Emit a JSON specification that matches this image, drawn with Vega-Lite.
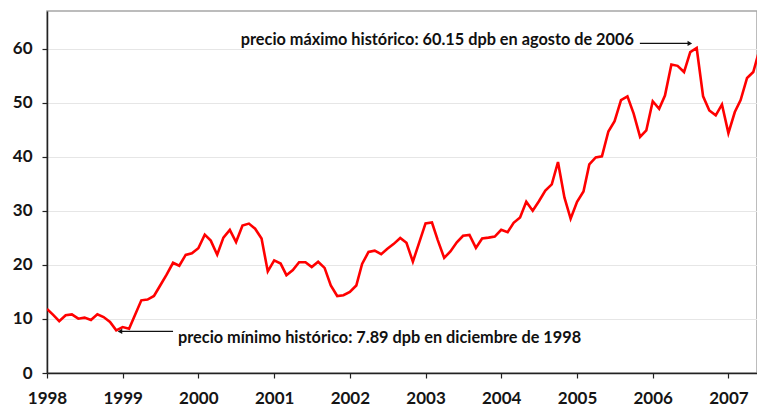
{
  "$schema": "https://vega.github.io/schema/vega-lite/v6.json",
  "width": 710,
  "height": 362,
  "autosize": {"type": "none"},
  "padding": {"left": 47, "top": 11, "right": 0, "bottom": 36},
  "background": "white",
  "view": {"stroke": "#a6a6a6", "strokeWidth": 1.5},
  "config": {
    "font": "Lato",
    "axis": {
      "labelFont": "Lato",
      "labelFontWeight": "bold",
      "labelFontSize": 17,
      "labelColor": "#151515",
      "domainColor": "#222222",
      "domainWidth": 1.5,
      "tickColor": "#222222",
      "tickWidth": 1.2,
      "tickSize": 5,
      "title": null
    }
  },
  "datasets": {
    "precio": [
      {"date": "1998-01-01", "v": 11.85}, {"date": "1998-02-01", "v": 10.7}, {"date": "1998-03-01", "v": 9.6}, {"date": "1998-04-01", "v": 10.7},
      {"date": "1998-05-01", "v": 10.85}, {"date": "1998-06-01", "v": 10.05}, {"date": "1998-07-01", "v": 10.25}, {"date": "1998-08-01", "v": 9.8},
      {"date": "1998-09-01", "v": 10.85}, {"date": "1998-10-01", "v": 10.35}, {"date": "1998-11-01", "v": 9.45}, {"date": "1998-12-01", "v": 7.89},
      {"date": "1999-01-01", "v": 8.5}, {"date": "1999-02-01", "v": 8.2}, {"date": "1999-03-01", "v": 10.7}, {"date": "1999-04-01", "v": 13.45},
      {"date": "1999-05-01", "v": 13.6}, {"date": "1999-06-01", "v": 14.25}, {"date": "1999-07-01", "v": 16.2}, {"date": "1999-08-01", "v": 18.2},
      {"date": "1999-09-01", "v": 20.4}, {"date": "1999-10-01", "v": 19.85}, {"date": "1999-11-01", "v": 21.85}, {"date": "1999-12-01", "v": 22.15},
      {"date": "2000-01-01", "v": 23.1}, {"date": "2000-02-01", "v": 25.6}, {"date": "2000-03-01", "v": 24.5}, {"date": "2000-04-01", "v": 21.9},
      {"date": "2000-05-01", "v": 25.05}, {"date": "2000-06-01", "v": 26.5}, {"date": "2000-07-01", "v": 24.25}, {"date": "2000-08-01", "v": 27.3},
      {"date": "2000-09-01", "v": 27.65}, {"date": "2000-10-01", "v": 26.7}, {"date": "2000-11-01", "v": 24.9}, {"date": "2000-12-01", "v": 18.8},
      {"date": "2001-01-01", "v": 20.85}, {"date": "2001-02-01", "v": 20.25}, {"date": "2001-03-01", "v": 18.1}, {"date": "2001-04-01", "v": 19.05},
      {"date": "2001-05-01", "v": 20.5}, {"date": "2001-06-01", "v": 20.5}, {"date": "2001-07-01", "v": 19.6}, {"date": "2001-08-01", "v": 20.6},
      {"date": "2001-09-01", "v": 19.45}, {"date": "2001-10-01", "v": 16.2}, {"date": "2001-11-01", "v": 14.25}, {"date": "2001-12-01", "v": 14.4},
      {"date": "2002-01-01", "v": 15.0}, {"date": "2002-02-01", "v": 16.2}, {"date": "2002-03-01", "v": 20.2}, {"date": "2002-04-01", "v": 22.4},
      {"date": "2002-05-01", "v": 22.65}, {"date": "2002-06-01", "v": 22.0}, {"date": "2002-07-01", "v": 23.0}, {"date": "2002-08-01", "v": 23.9},
      {"date": "2002-09-01", "v": 25.0}, {"date": "2002-10-01", "v": 24.1}, {"date": "2002-11-01", "v": 20.6}, {"date": "2002-12-01", "v": 24.1},
      {"date": "2003-01-01", "v": 27.7}, {"date": "2003-02-01", "v": 27.85}, {"date": "2003-03-01", "v": 24.6}, {"date": "2003-04-01", "v": 21.3},
      {"date": "2003-05-01", "v": 22.5}, {"date": "2003-06-01", "v": 24.2}, {"date": "2003-07-01", "v": 25.4}, {"date": "2003-08-01", "v": 25.55},
      {"date": "2003-09-01", "v": 23.15}, {"date": "2003-10-01", "v": 24.9}, {"date": "2003-11-01", "v": 25.05}, {"date": "2003-12-01", "v": 25.25},
      {"date": "2004-01-01", "v": 26.5}, {"date": "2004-02-01", "v": 26.05}, {"date": "2004-03-01", "v": 27.8}, {"date": "2004-04-01", "v": 28.8},
      {"date": "2004-05-01", "v": 31.7}, {"date": "2004-06-01", "v": 30.05}, {"date": "2004-07-01", "v": 31.8}, {"date": "2004-08-01", "v": 33.75},
      {"date": "2004-09-01", "v": 34.9}, {"date": "2004-10-01", "v": 39.05}, {"date": "2004-11-01", "v": 32.5}, {"date": "2004-12-01", "v": 28.55},
      {"date": "2005-01-01", "v": 31.7}, {"date": "2005-02-01", "v": 33.6}, {"date": "2005-03-01", "v": 38.6}, {"date": "2005-04-01", "v": 39.9},
      {"date": "2005-05-01", "v": 40.1}, {"date": "2005-06-01", "v": 44.7}, {"date": "2005-07-01", "v": 46.6}, {"date": "2005-08-01", "v": 50.5},
      {"date": "2005-09-01", "v": 51.2}, {"date": "2005-10-01", "v": 48.0}, {"date": "2005-11-01", "v": 43.7}, {"date": "2005-12-01", "v": 44.9},
      {"date": "2006-01-01", "v": 50.3}, {"date": "2006-02-01", "v": 48.9}, {"date": "2006-03-01", "v": 51.35}, {"date": "2006-04-01", "v": 57.1},
      {"date": "2006-05-01", "v": 56.85}, {"date": "2006-06-01", "v": 55.7}, {"date": "2006-07-01", "v": 59.4}, {"date": "2006-08-01", "v": 60.15},
      {"date": "2006-09-01", "v": 51.2}, {"date": "2006-10-01", "v": 48.6}, {"date": "2006-11-01", "v": 47.7}, {"date": "2006-12-01", "v": 49.7},
      {"date": "2007-01-01", "v": 44.4}, {"date": "2007-02-01", "v": 48.3}, {"date": "2007-03-01", "v": 50.5}, {"date": "2007-04-01", "v": 54.6},
      {"date": "2007-05-01", "v": 55.7}, {"date": "2007-06-01", "v": 60.0}
    ],
    "flechas": [
      {"desde": "2005-10-31", "hasta": "2006-06-29", "nivel": 61.0, "forma": "triangle-right"},
      {"desde": "1999-09-01", "hasta": "1998-12-19", "nivel": 7.7, "forma": "triangle-left"}
    ],
    "notas": [
      {"fecha": "2005-10-02", "nivel": 61.6, "texto": "precio máximo histórico: 60.15 dpb en agosto de 2006", "lado": "derecha"},
      {"fecha": "1999-09-25", "nivel": 6.5, "texto": "precio mínimo histórico: 7.89 dpb en diciembre de 1998", "lado": "izquierda"}
    ]
  },
  "layer": [
    {
      "data": {"name": "precio"},
      "mark": {"type": "line", "color": "#ff0000", "strokeWidth": 2.6, "clip": true, "strokeJoin": "miter"},
      "encoding": {
        "x": {
          "field": "date", "type": "temporal",
          "scale": {"type": "utc", "domain": [{"year": 1998, "month": 1, "date": 1, "utc": true}, {"year": 2007, "month": 5, "date": 19, "utc": true}]},
          "axis": {"format": "%Y", "tickCount": {"interval": "year", "step": 1}, "grid": false, "labelPadding": 12, "labelFlush": false, "labelOverlap": false}
        },
        "y": {
          "field": "v", "type": "quantitative",
          "scale": {"domain": [0, 67], "nice": false},
          "axis": {"values": [0, 10, 20, 30, 40, 50, 60], "grid": true, "gridColor": "#e6e6e6", "gridWidth": 1.2, "labelPadding": 10}
        }
      }
    },
    {
      "data": {"name": "flechas"},
      "mark": {"type": "rule", "color": "#111111", "strokeWidth": 1.3},
      "encoding": {
        "x": {"field": "desde", "type": "temporal"},
        "x2": {"field": "hasta"},
        "y": {"field": "nivel", "type": "quantitative"}
      }
    },
    {
      "data": {"name": "flechas"},
      "mark": {"type": "point", "filled": true, "color": "#111111", "size": 28, "opacity": 1},
      "encoding": {
        "x": {"field": "hasta", "type": "temporal"},
        "y": {"field": "nivel", "type": "quantitative"},
        "shape": {"field": "forma", "type": "nominal", "scale": null, "legend": null}
      }
    },
    {
      "data": {"name": "notas"},
      "transform": [{"filter": "datum.lado === 'derecha'"}],
      "mark": {"type": "text", "font": "Lato", "fontWeight": "bold", "fontSize": 16.3, "color": "#111111", "baseline": "middle", "align": "right"},
      "encoding": {
        "x": {"field": "fecha", "type": "temporal"},
        "y": {"field": "nivel", "type": "quantitative"},
        "text": {"field": "texto"}
      }
    },
    {
      "data": {"name": "notas"},
      "transform": [{"filter": "datum.lado === 'izquierda'"}],
      "mark": {"type": "text", "font": "Lato", "fontWeight": "bold", "fontSize": 16.3, "color": "#111111", "baseline": "middle", "align": "left"},
      "encoding": {
        "x": {"field": "fecha", "type": "temporal"},
        "y": {"field": "nivel", "type": "quantitative"},
        "text": {"field": "texto"}
      }
    }
  ]
}
